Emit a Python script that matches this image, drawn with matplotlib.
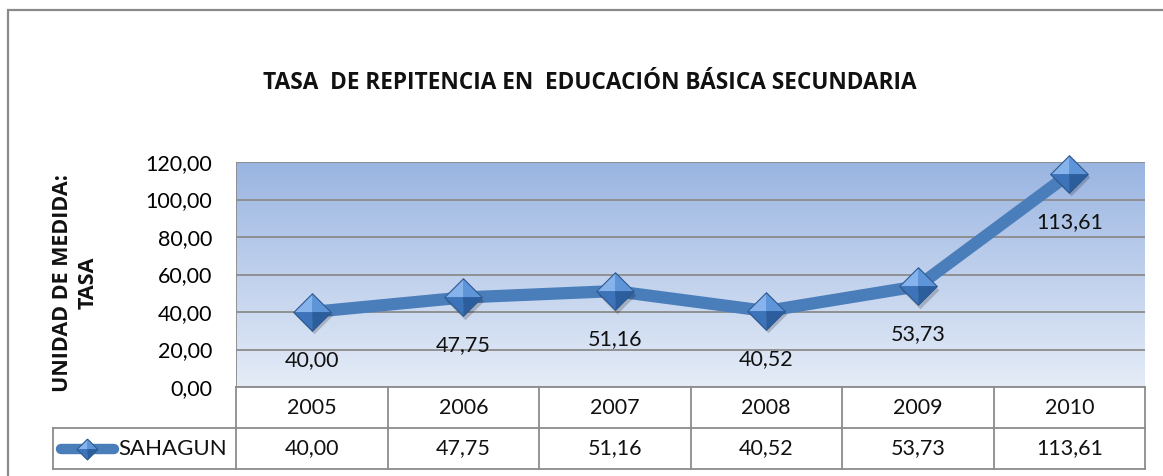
import numpy as np
import matplotlib
matplotlib.use("Agg")
import matplotlib.pyplot as plt
from matplotlib.path import Path
from matplotlib.patches import Rectangle
from matplotlib.lines import Line2D
import matplotlib.transforms as mtrans

# ---------------- data ----------------
years = ["2005", "2006", "2007", "2008", "2009", "2010"]
values = [40.00, 47.75, 51.16, 40.52, 53.73, 113.61]
series_name = "SAHAGUN"
title = "TASA  DE REPITENCIA EN  EDUCACIÓN BÁSICA SECUNDARIA"
ylabel = "UNIDAD DE MEDIDA:\nTASA"
yticks = [0, 20, 40, 60, 80, 100, 120]


def fmt(v):
    return f"{v:.2f}".replace(".", ",")


plt.rcParams['font.family'] = ['Lato', 'DejaVu Sans']
BOLD_FAMILY = ['Open Sans', 'DejaVu Sans']

W, H = 1163, 476
fig = plt.figure(figsize=(W / 100, H / 100), dpi=100)
fig.patch.set_facecolor("white")


def fx(px):
    return px / W


def fy(py):
    return 1 - py / H


# outer frame
fig.patches.append(Rectangle((fx(8), fy(500)), fx(1170) - fx(8), fy(10) - fy(500),
                             transform=fig.transFigure, fill=False,
                             edgecolor="#8a8a8a", linewidth=1.6, zorder=0))

L, R, T, B = 236, 1145, 162, 387
ax = fig.add_axes([fx(L), fy(B), fx(R) - fx(L), fy(T) - fy(B)])
x = np.arange(len(years))
ax.set_xlim(-0.5, len(years) - 0.5)
ax.set_ylim(0, 120)

# gradient plot area
grad = np.linspace(0, 1, 256).reshape(-1, 1)
top = np.array([0x9A, 0xB5, 0xE2]) / 255
bot = np.array([0xE5, 0xEC, 0xF7]) / 255
img = top[None, None, :] * (1 - grad[:, :, None]) + bot[None, None, :] * grad[:, :, None]
ax.imshow(img, extent=[-0.5, len(years) - 0.5, 0, 120], aspect="auto",
          origin="upper", zorder=0)

for s in ax.spines.values():
    s.set_visible(False)
ax.set_xticks([])
ax.set_yticks(yticks)
ax.set_yticklabels([fmt(v) for v in yticks], fontsize=15.5)
ax.tick_params(axis="y", length=0, pad=17)
for yv in yticks:
    ax.axhline(yv, color="#8c8c8c", linewidth=1.3, zorder=1)
ax.axvline(-0.5, color="#8c8c8c", linewidth=1.3, zorder=1)

# line
ax.plot(x, values, color="#4a7ebb", linewidth=8.8, solid_capstyle="round",
        zorder=3, clip_on=False)

# beveled diamond markers
facets = [
    ([(0, 1), (-1, 0), (0, 0), (0, 1)], "#86b3eb"),   # top-left
    ([(0, 1), (1, 0), (0, 0), (0, 1)], "#5e95d8"),    # top-right
    ([(-1, 0), (0, -1), (0, 0), (-1, 0)], "#3d73b8"), # bottom-left
    ([(1, 0), (0, -1), (0, 0), (1, 0)], "#2c5e9e"),   # bottom-right
]
diamond = Path([(0, 1), (-1, 0), (0, -1), (1, 0), (0, 1)])


def draw_markers(axis, xs, ys, ms, z, shadow=True):
    if shadow:
        axis.plot(xs, ys, linestyle="none", marker=diamond, markersize=ms,
                  markerfacecolor="#00000030", markeredgecolor="none",
                  transform=axis.transData + mtrans.ScaledTranslation(1.5 / 72, -2.5 / 72, fig.dpi_scale_trans),
                  zorder=z, clip_on=False)
    for verts, col in facets:
        axis.plot(xs, ys, linestyle="none", marker=Path(verts + [(0, 0)]),
                  markersize=ms, markerfacecolor=col, markeredgecolor=col,
                  markeredgewidth=0.3, zorder=z + 1, clip_on=False)
    axis.plot(xs, ys, linestyle="none", marker=diamond, markersize=ms,
              markerfacecolor="none", markeredgecolor="#2f5a90",
              markeredgewidth=0.8, zorder=z + 2, clip_on=False)


draw_markers(ax, x, values, 27, 4)

# data labels below points
for xi, v in zip(x, values):
    ax.annotate(fmt(v), (xi, v), xytext=(0, -34.5), textcoords="offset points",
                ha="center", va="center", fontsize=15.5, color="#111111", zorder=6)

# title & y label
fig.text(fx(590), fy(83), title, ha="center", va="center", fontsize=16.3,
         fontweight="bold", color="#111111", family=BOLD_FAMILY)
fig.text(fx(75), fy(283), ylabel, ha="center", va="center", rotation=90,
         fontsize=15.5, fontweight="bold", linespacing=1.3, color="#111111",
         family=BOLD_FAMILY)

# ---------- data table ----------
bt = mtrans.blended_transform_factory(ax.transData, fig.transFigure)
grid_c = "#8c8c8c"
y_r0, y_r1, y_r2 = B, 428, 469
n = len(years)
for yy in (y_r0, y_r1, y_r2):
    fig.lines.append(Line2D([-0.5, n - 0.5], [fy(yy), fy(yy)], transform=bt,
                            color=grid_c, linewidth=1.3))
for yy in (y_r1, y_r2):
    fig.lines.append(Line2D([fx(53), fx(L)], [fy(yy), fy(yy)],
                            transform=fig.transFigure, color=grid_c, linewidth=1.3))
for b in np.arange(n + 1) - 0.5:
    fig.lines.append(Line2D([b, b], [fy(y_r0), fy(y_r2)], transform=bt,
                            color=grid_c, linewidth=1.3))
fig.lines.append(Line2D([fx(53), fx(53)], [fy(y_r1), fy(y_r2)],
                        transform=fig.transFigure, color=grid_c, linewidth=1.3))

for xi, yr, v in zip(x, years, values):
    fig.text(xi, fy((y_r0 + y_r1) / 2), yr, transform=bt, ha="center",
             va="center", fontsize=15.5, color="#111111")
    fig.text(xi, fy((y_r1 + y_r2) / 2), fmt(v), transform=bt, ha="center",
             va="center", fontsize=15.5, color="#111111")

# legend key
lax = fig.add_axes([fx(53), fy(y_r2), fx(L) - fx(53), fy(y_r1) - fy(y_r2)])
lax.set_xlim(53, L)
lax.set_ylim(y_r2, y_r1)
lax.axis("off")
ly = (y_r1 + y_r2) / 2
lax.plot([61, 114], [ly, ly], color="#4a7ebb", linewidth=7.5,
         solid_capstyle="round", zorder=2)
draw_markers(lax, [87], [ly], 15, 3, shadow=False)
lax.text(118, ly, series_name, ha="left", va="center", fontsize=16,
         color="#111111")

fig.savefig("out.png", dpi=100)
